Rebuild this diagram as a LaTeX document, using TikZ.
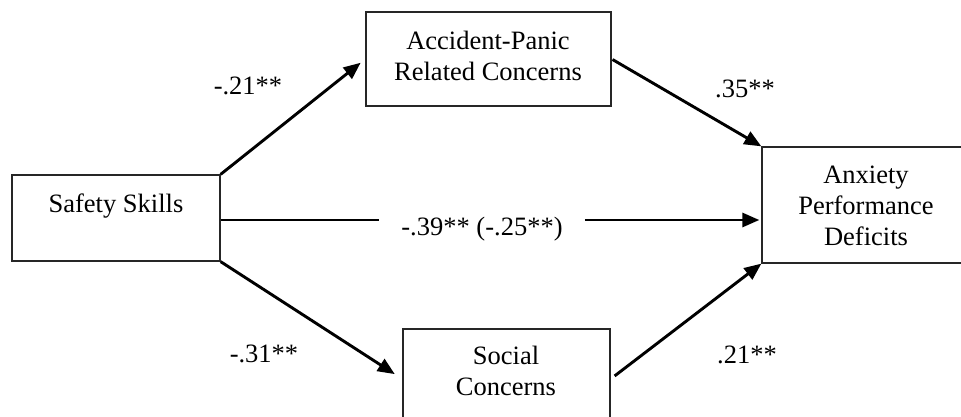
\documentclass[tikz,border=0pt]{standalone}
\usepackage{fontspec}
\setmainfont{Liberation Serif}
\usetikzlibrary{arrows.meta}
\begin{document}
\begin{tikzpicture}[x=1pt,y=-1pt,
  every node/.style={font=\fontsize{26.5}{31}\selectfont},
  box/.style={draw=black!85,line width=1.3pt,rectangle,inner sep=0pt},
  label/.style={inner sep=0pt,align=center},
  coef/.style={inner sep=0pt,anchor=base},
  conn/.style={line width=2.9pt,line cap=butt},
  arrow/.style={conn,-{Triangle[length=17pt,width=14pt]}}]
\useasboundingbox (0,0) rectangle (961,417);

% boxes
\node[box,minimum width=208pt,minimum height=86pt] (safety) at (116,218) {};
\node[box,minimum width=245pt,minimum height=94pt] (accident) at (488.5,59) {};
\node[box,minimum width=207pt,minimum height=100pt] (social) at (506.5,379) {};
\node[box,minimum width=210pt,minimum height=116pt] (anxiety) at (867,205) {};

% box texts
\node[coef] (safetytxt) at (116,212) {Safety Skills};
\node[label] (accidenttxt) at (488,55.5) {Accident-Panic\\Related Concerns};
\node[label] (socialtxt) at (506,371) {Social\\Concerns};
\node[label] (anxietytxt) at (866,206) {Anxiety\\Performance\\Deficits};

% coefficients
\node[coef] (c1) at (248,95) {-.21**};
\node[coef] (c2) at (264,362) {-.31**};
\node[coef] (c3) at (745,98) {.35**};
\node[coef] (c4) at (747,363) {.21**};
\coordinate (midline) at (0,220);
\node[label,inner xsep=22pt] (direct) at (482,229) {-.39** (-.25**)};

% paths
\draw[arrow,shorten >=6pt] (safety.north east) -- (accident.west);
\draw[arrow,shorten >=9pt] (safety.south east) -- (social.west);
\draw[arrow,shorten <=1pt] (accident.east) -- (anxiety.north west);
\draw[arrow,shorten <=5pt] (social.east) -- (anxiety.south west);
\draw[conn] (safety.east |- midline) -- (direct.west |- midline);
\draw[arrow,shorten >=2pt] (direct.east |- midline) -- (anxiety.west |- midline);
\end{tikzpicture}
\end{document}
